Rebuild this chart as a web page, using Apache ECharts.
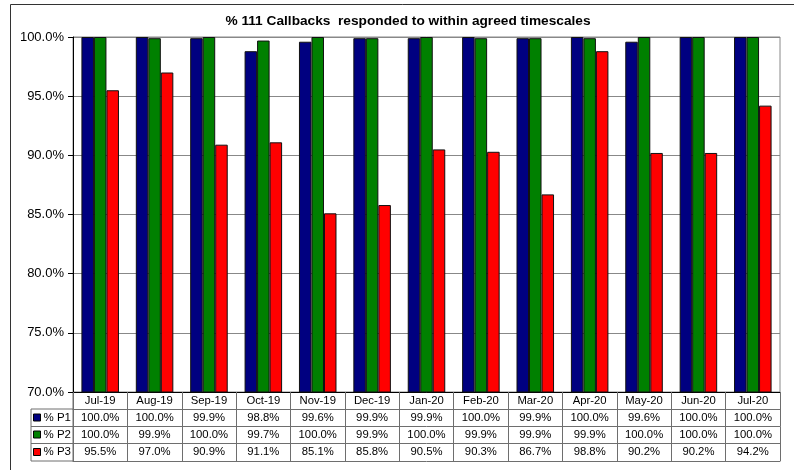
<!DOCTYPE html>
<html><head><meta charset="utf-8">
<script src="https://cdn.jsdelivr.net/npm/echarts@6/dist/echarts.min.js"></script>
<style>html,body{margin:0;padding:0;background:#fff}#c{width:794px;height:470px}</style>
</head><body><div id="c"></div>
<script>
const titleText = '% 111 Callbacks  responded to within agreed timescales';
const months = ['Jul-19','Aug-19','Sep-19','Oct-19','Nov-19','Dec-19','Jan-20','Feb-20','Mar-20','Apr-20','May-20','Jun-20','Jul-20'];
const seriesNames = ['% P1','% P2','% P3'];
const p1 = [100.0,100.0,99.9,98.8,99.6,99.9,99.9,100.0,99.9,100.0,99.6,100.0,100.0];
const p2 = [100.0,99.9,100.0,99.7,100.0,99.9,100.0,99.9,99.9,99.9,100.0,100.0,100.0];
const p3 = [95.5,97.0,90.9,91.1,85.1,85.8,90.5,90.3,86.7,98.8,90.2,90.2,94.2];
const yMin = 70, yMax = 100, yStep = 5;
const colors = ['#000080','#008000','#ff0000'];

const FONT = 'Liberation Sans, Arial, sans-serif';
const fmt = v => v.toFixed(1) + '%';
const lineCol = '#6e6e6e';
const rowOffsets = [0, 17, 34.5, 51.5];
const rowData = [months, p1.map(fmt), p2.map(fmt), p3.map(fmt)];

const xAxes = rowOffsets.map((off, i) => ({
  type: 'category', data: rowData[i], position: 'bottom', offset: off,
  boundaryGap: true,
  axisLine: {show: true, lineStyle: {color: i === 0 ? '#000' : lineCol, width: 1}},
  axisTick: {show: true, alignWithLabel: false, length: 17.5, lineStyle: {color: lineCol}},
  axisLabel: {show: true, interval: 0, margin: 3, color: '#000', fontFamily: FONT, fontSize: 11.3},
  splitLine: {show: false}
}));
xAxes.push({
  type: 'category', data: months, position: 'bottom', offset: 69,
  axisLine: {show: true, lineStyle: {color: lineCol}}, axisTick: {show: false}, axisLabel: {show: false}
});

const seriesData = [p1, p2, p3];
const series = seriesNames.map((n, i) => ({
  name: n, type: 'bar', data: seriesData[i], xAxisIndex: 0,
  barGap: '0%', barCategoryGap: '31%',
  itemStyle: {color: colors[i], borderColor: '#111', borderWidth: 1}
}));

const legendTops = [411.5, 428.5, 446];
const legends = seriesNames.map((n, i) => ({
  data: [n], orient: 'vertical', left: 33, top: legendTops[i], padding: 0,
  itemWidth: 7, itemHeight: 7, itemGap: 0,
  icon: 'rect',
  itemStyle: {borderColor: '#000', borderWidth: 1},
  textStyle: {color: '#000', fontFamily: FONT, fontSize: 11.5, padding: [0,0,0,-2]},
  selectedMode: false
}));

const chart = echarts.init(document.getElementById('c'), null, {renderer: 'canvas'});
chart.setOption({
  animation: false,
  backgroundColor: '#fff',
  title: {text: titleText, left: 403, top: 9, textAlign: 'center',
    textStyle: {fontFamily: FONT, fontSize: 13.7, fontWeight: 'bold', color: '#000'}},
  legend: legends,
  grid: {left: 73, right: 14, top: 37, bottom: 78, show: true, borderColor: '#888', borderWidth: 1, containLabel: false},
  xAxis: xAxes,
  yAxis: {type: 'value', min: yMin, max: yMax, interval: yStep,
    axisLine: {show: true, lineStyle: {color: '#000'}},
    axisTick: {show: true, length: 5, lineStyle: {color: '#000'}},
    axisLabel: {formatter: v => v.toFixed(1) + '%', color: '#000', fontFamily: FONT, fontSize: 13, margin: 9},
    splitLine: {show: true, lineStyle: {color: '#888', width: 1}}
  },
  series: series,
  graphic: [
    {type: 'rect', shape: {x: 10.5, y: 4.5, width: 900, height: 600}, style: {fill: 'none', stroke: '#333', lineWidth: 1}, silent: true, z: -1},
    {type: 'line', shape: {x1: 73, y1: 392, x2: 73, y2: 461}, style: {stroke: lineCol, lineWidth: 1}},
    {type: 'line', shape: {x1: 31, y1: 409, x2: 31, y2: 461}, style: {stroke: lineCol, lineWidth: 1}},
    {type: 'line', shape: {x1: 31, y1: 409, x2: 73, y2: 409}, style: {stroke: lineCol, lineWidth: 1}},
    {type: 'line', shape: {x1: 31, y1: 426.5, x2: 73, y2: 426.5}, style: {stroke: lineCol, lineWidth: 1}},
    {type: 'line', shape: {x1: 31, y1: 443.5, x2: 73, y2: 443.5}, style: {stroke: lineCol, lineWidth: 1}},
    {type: 'line', shape: {x1: 31, y1: 461, x2: 73, y2: 461}, style: {stroke: lineCol, lineWidth: 1}}
  ]
});
</script></body></html>
